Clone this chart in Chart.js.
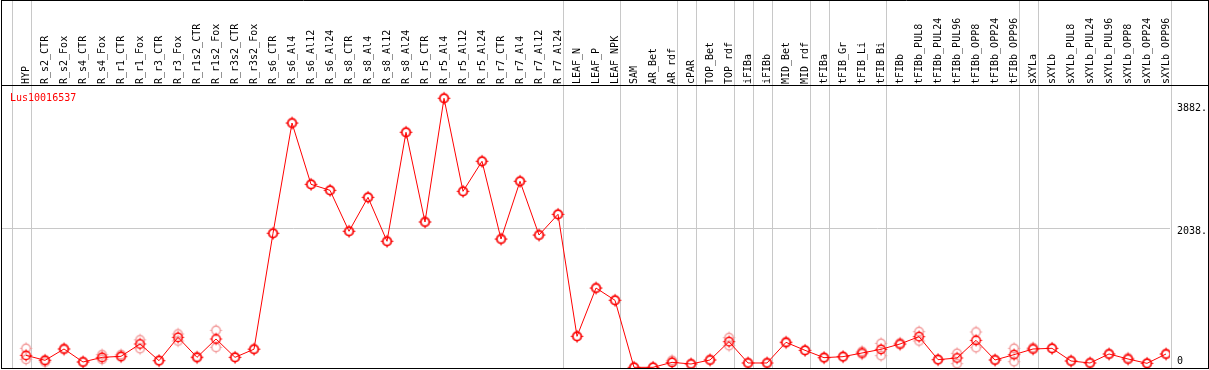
<!DOCTYPE html>
<html><head><meta charset="utf-8">
<script src="https://cdn.jsdelivr.net/npm/chart.js@4/dist/chart.umd.min.js"></script>
<style>html,body{margin:0;padding:0;background:#fff}#wrap{width:1209px;height:370px}</style>
</head><body><div id="wrap"><canvas id="c" width="1209" height="370"></canvas></div>
<script>
const geneName = 'Lus10016537';
const categories = ['HYP','R_s2_CTR','R_s2_Fox','R_s4_CTR','R_s4_Fox','R_r1_CTR','R_r1_Fox','R_r3_CTR','R_r3_Fox','R_r1s2_CTR','R_r1s2_Fox','R_r3s2_CTR','R_r3s2_Fox','R_s6_CTR','R_s6_Al4','R_s6_Al12','R_s6_Al24','R_s8_CTR','R_s8_Al4','R_s8_Al12','R_s8_Al24','R_r5_CTR','R_r5_Al4','R_r5_Al12','R_r5_Al24','R_r7_CTR','R_r7_Al4','R_r7_Al12','R_r7_Al24','LEAF_N','LEAF_P','LEAF_NPK','SAM','AR_Bet','AR_rdf','cPAR','TOP_Bet','TOP_rdf','iFIBa','iFIBb','MID_Bet','MID_rdf','tFIBa','tFIB_Gr','tFIB_Li','tFIB_Bi','tFIBb','tFIBb_PUL8','tFIBb_PUL24','tFIBb_PUL96','tFIBb_OPP8','tFIBb_OPP24','tFIBb_OPP96','sXYLa','sXYLb','sXYLb_PUL8','sXYLb_PUL24','sXYLb_PUL96','sXYLb_OPP8','sXYLb_OPP24','sXYLb_OPP96'];
const meanValues = [133,58,228,33,103,118,303,53,403,103,378,103,225,1963,3616,2697,2607,1993,2502,1843,3477,2132,3987,2592,3042,1877,2742,1937,2247,418,1142,958,-47,-47,28,3,63,338,18,18,328,208,98,113,168,223,303,413,68,93,358,63,143,228,238,48,18,153,78,13,153];
const replicateA = [238,63,238,38,143,143,365,53,453,113,508,103,228,1963,3616,2697,2607,1993,2502,1843,3477,2132,3987,2592,3042,1877,2742,1937,2247,418,1142,958,-47,-47,58,3,73,398,18,18,338,208,103,118,193,313,318,488,68,163,483,63,238,248,238,48,18,158,93,13,158];
const replicateB = [73,33,218,28,73,108,233,53,348,93,253,103,225,1963,3616,2697,2607,1993,2502,1843,3477,2132,3987,2592,3042,1877,2742,1937,2247,418,1142,958,-47,-47,28,3,58,278,18,18,318,208,93,108,153,128,293,348,68,8,248,63,38,228,238,48,18,148,73,13,148];
const yTickValues = [0, 2038, 3882];
const yTickLabels = ['0', '2038.', '3882.'];
const gridLineValue = 2038;
const separatorAfter = [-1, 0, 28, 31, 34, 35, 37, 38, 39, 41, 42, 45, 52, 53, 60];

const FONT = '"DejaVu Sans Mono", "Liberation Mono", monospace';
Chart.defaults.font.family = FONT;
Chart.defaults.font.size = 10;
Chart.defaults.color = '#000';

function makeMarker(color) {
  const c = document.createElement('canvas');
  c.width = 15; c.height = 15;
  const g = c.getContext('2d');
  g.strokeStyle = color; g.lineWidth = 1.4;
  g.beginPath(); g.arc(7.5, 7.5, 4.2, 0, Math.PI * 2); g.stroke();
  g.lineWidth = 1;
  g.beginPath();
  g.moveTo(7.5, 1.5); g.lineTo(7.5, 3.5);
  g.moveTo(7.5, 11.5); g.lineTo(7.5, 13.5);
  g.moveTo(1.5, 7.5); g.lineTo(3.5, 7.5);
  g.moveTo(11.5, 7.5); g.lineTo(13.5, 7.5);
  g.stroke();
  return c;
}
const mainMarker = makeMarker('#ff0000');
const repMarker = makeMarker('#f29a9a');

const framePlugin = {
  id: 'frame',
  beforeDatasetsDraw(chart) {
    const {ctx, chartArea, scales: {x}} = chart;
    ctx.save();
    ctx.strokeStyle = '#c8c8c8'; ctx.lineWidth = 1;
    separatorAfter.forEach(i => {
      const px = Math.round(x.getPixelForValue(i + 0.25)) + 0.5;
      ctx.beginPath(); ctx.moveTo(px, 0); ctx.lineTo(px, chartArea.bottom); ctx.stroke();
    });
    ctx.restore();
  },
  afterDraw(chart) {
    const {ctx, chartArea, width} = chart;
    ctx.save();
    ctx.strokeStyle = '#000'; ctx.lineWidth = 1;
    ctx.beginPath();
    ctx.moveTo(1.5, 0.5); ctx.lineTo(width - 0.5, 0.5);
    ctx.moveTo(1.5, 0); ctx.lineTo(1.5, chartArea.bottom + 1);
    ctx.moveTo(width - 0.5, 0); ctx.lineTo(width - 0.5, chartArea.bottom + 1);
    ctx.moveTo(1, chartArea.bottom + 0.5); ctx.lineTo(width, chartArea.bottom + 0.5);
    ctx.moveTo(1, chartArea.top - 0.5); ctx.lineTo(width, chartArea.top - 0.5);
    ctx.stroke();
    ctx.fillStyle = '#ff0000';
    ctx.font = '10px ' + FONT;
    ctx.textBaseline = 'alphabetic';
    ctx.fillText(geneName, chartArea.left + 9, chartArea.top + 15);
    ctx.restore();
  }
};

new Chart(document.getElementById('c'), {
  type: 'line',
  data: {
    datasets: [
      {
        data: meanValues.map((v, i) => ({x: i, y: v})),
        borderColor: '#ff0000', borderWidth: 1, tension: 0,
        pointStyle: mainMarker, pointRadius: 7
      },
      {
        data: replicateA.map((v, i) => ({x: i, y: v})),
        showLine: false, pointStyle: repMarker, pointRadius: 7
      },
      {
        data: replicateB.map((v, i) => ({x: i, y: v})),
        showLine: false, pointStyle: repMarker, pointRadius: 7
      }
    ]
  },
  options: {
    responsive: false,
    animation: false,
    events: [],
    layout: {padding: {left: 1, right: 1, top: 0, bottom: 2}, autoPadding: false},
    plugins: {legend: {display: false}, tooltip: {enabled: false}, title: {display: false}},
    scales: {
      x: {
        type: 'linear', position: 'top',
        min: -1.3158, max: 60.2105,
        afterBuildTicks: s => { s.ticks = categories.map((c, i) => ({value: i})); },
        afterFit: s => { s.height = 86; s.paddingLeft = 0; s.paddingRight = 0; s.paddingTop = 0; s.paddingBottom = 0; },
        grid: {display: false, drawTicks: false},
        border: {display: false},
        ticks: {
          autoSkip: false, minRotation: 90, maxRotation: 90, padding: 2, labelOffset: 12,
          callback: v => categories[v]
        }
      },
      y: {
        type: 'linear', position: 'right',
        min: -57, max: 4171,
        afterBuildTicks: s => { s.ticks = yTickValues.map(v => ({value: v})); },
        afterFit: s => { s.width = 38; s.paddingLeft = 0; s.paddingRight = 0; s.paddingTop = 0; s.paddingBottom = 0; },
        grid: {
          drawTicks: false,
          color: c => (c.tick && c.tick.value === gridLineValue) ? '#c8c8c8' : 'rgba(0,0,0,0)'
        },
        border: {display: false},
        ticks: {
          padding: 7, labelOffset: 3,
          callback: v => {
            const i = yTickValues.indexOf(v);
            return i === 0 ? [yTickLabels[i], ''] : yTickLabels[i];
          }
        }
      }
    }
  },
  plugins: [framePlugin]
});
</script>
</body></html>
